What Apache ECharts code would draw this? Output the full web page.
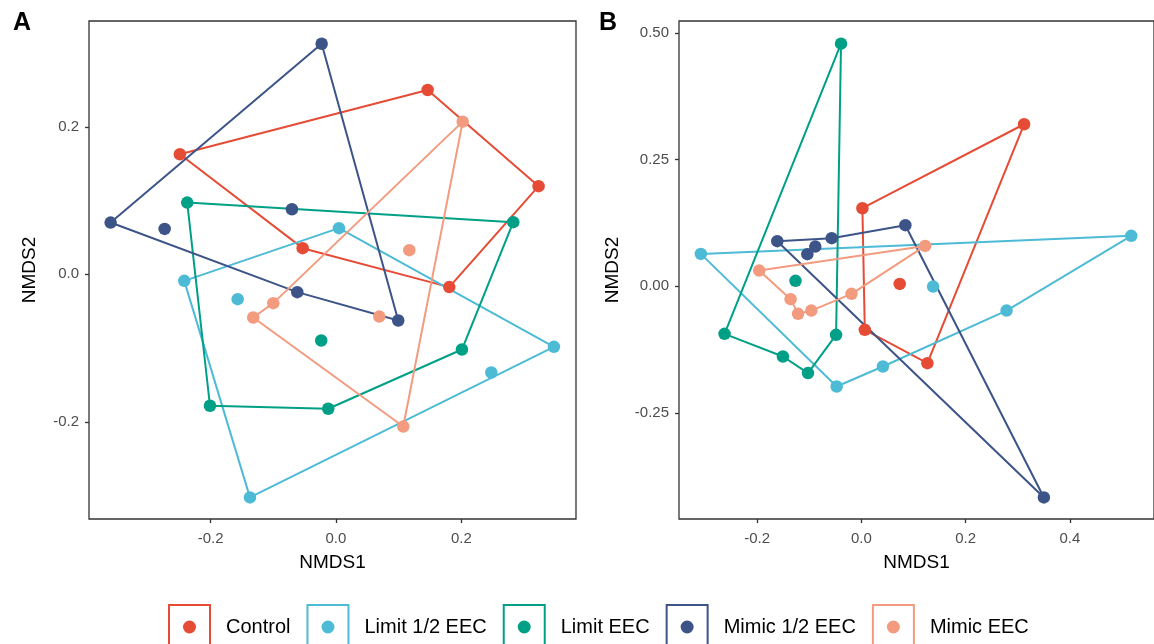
<!DOCTYPE html>
<html>
<head>
<meta charset="utf-8">
<script src="https://cdn.jsdelivr.net/npm/echarts@6/dist/echarts.min.js"></script>
<style>
  html, body { margin: 0; padding: 0; background: #fff; }
  #chart { width: 1154px; height: 644px; }
</style>
</head>
<body>
<div id="chart"></div>
<script>
// groups and colours
const groups = ["Control", "Limit 1/2 EEC", "Limit EEC", "Mimic 1/2 EEC", "Mimic EEC"];
const colors = ["#E64B35", "#4DBBD5", "#00A087", "#3C5488", "#F39B7F"];

// panel A: NMDS1, NMDS2 per sample
const aControl = [[-0.249, 0.1628], [0.1463, 0.2499], [0.3233, 0.1195], [0.1808, -0.0173], [-0.0531, 0.0355]];
const aLimitHalf = [[-0.242, -0.0088], [-0.1568, -0.0336], [0.0048, 0.0626], [0.3478, -0.0982], [0.2478, -0.133], [-0.1372, -0.3023]];
const aLimit = [[-0.2373, 0.0973], [0.2829, 0.0707], [0.201, -0.1019], [-0.0123, -0.1822], [-0.201, -0.1781], [-0.0235, -0.0897]];
const aMimicHalf = [[-0.0228, 0.3126], [0.0994, -0.0626], [-0.0617, -0.0241], [-0.3595, 0.0702], [-0.2733, 0.0616], [-0.0702, 0.0883]];
const aMimic = [[0.2022, 0.207], [0.1074, -0.2062], [-0.132, -0.0585], [-0.1, -0.039], [0.0691, -0.0572], [0.117, 0.0328]];
// polygon vertex order (indices into the arrays above)
const aControlHull = [0, 1, 2, 3, 4];
const aLimitHalfHull = [0, 2, 3, 5];
const aLimitHull = [0, 1, 2, 3, 4];
const aMimicHalfHull = [3, 0, 1, 2];
const aMimicHull = [0, 1, 2, 3];

// panel B
const bControl = [[0.0019, 0.1539], [0.3121, 0.3197], [0.1266, -0.152], [0.0065, -0.0862], [0.0735, 0.0045]];
const bLimitHalf = [[-0.3081, 0.0637], [0.5178, 0.0993], [0.2785, -0.0482], [0.0412, -0.1587], [-0.0475, -0.1981], [0.1375, -0.0008]];
const bLimit = [[-0.0391, 0.4788], [-0.0486, -0.0961], [-0.1025, -0.1717], [-0.1506, -0.1389], [-0.2626, -0.0941], [-0.1264, 0.0105]];
const bMimicHalf = [[-0.1614, 0.0888], [-0.057, 0.0947], [0.0843, 0.1204], [0.3501, -0.4172], [-0.0885, 0.0782], [-0.1037, 0.0632]];
const bMimic = [[-0.1961, 0.0308], [0.1223, 0.0795], [-0.019, -0.0152], [-0.0961, -0.0482], [-0.1215, -0.0547], [-0.1359, -0.0257]];
const bControlHull = [0, 1, 2, 3];
const bLimitHalfHull = [0, 1, 2, 3, 4];
const bLimitHull = [0, 1, 2, 3, 4];
const bMimicHalfHull = [0, 1, 2, 3];
const bMimicHull = [0, 1, 2, 3, 4, 5];

// tick labels
const aXTicks = [-0.2, 0.0, 0.2];
const aYTicks = [-0.2, 0.0, 0.2];
const bXTicks = [-0.2, 0.0, 0.2, 0.4];
const bYTicks = [-0.25, 0.0, 0.25, 0.5];

const panelA = [aControl, aLimitHalf, aLimit, aMimicHalf, aMimic];
const panelAHull = [aControlHull, aLimitHalfHull, aLimitHull, aMimicHalfHull, aMimicHull];
const panelB = [bControl, bLimitHalf, bLimit, bMimicHalf, bMimic];
const panelBHull = [bControlHull, bLimitHalfHull, bLimitHull, bMimicHalfHull, bMimicHull];

const chart = echarts.init(document.getElementById("chart"));

const FONT = "Liberation Sans, Arial, sans-serif";

function makeAxis(gridIndex, min, max, ticks, digits, name, isY, nameGap) {
    return {
        type: "value",
        gridIndex,
        min,
        max,
        name,
        nameLocation: "middle",
        nameGap,
        nameTextStyle: { color: "#000", fontSize: 19, fontFamily: FONT },
        axisLine: { show: false, onZero: false },
        axisTick: {
            show: true,
            length: 4,
            customValues: ticks,
            lineStyle: { color: "#333", width: 1.3 },
        },
        axisLabel: {
            customValues: ticks,
            margin: isY ? 10 : 12,
            color: "#4d4d4d",
            fontSize: 15,
            fontFamily: FONT,
            formatter: (v) => Number(v).toFixed(digits),
        },
        splitLine: { show: false },
    };
}

const series = [];
function addPanel(data, hulls, idx) {
    // points on top
    data.forEach((pts, g) => {
        series.push({
            name: groups[g],
            type: "scatter",
            xAxisIndex: idx,
            yAxisIndex: idx,
            data: pts,
            symbolSize: 12.5,
            itemStyle: { color: colors[g], opacity: 1 },
            z: 4,
        });
    });
    data.forEach((pts, g) => {
        const ring = hulls[g].map((i) => pts[i]);
        ring.push(pts[hulls[g][0]]);
        series.push({
            name: groups[g],
            type: "line",
            xAxisIndex: idx,
            yAxisIndex: idx,
            data: ring,
            showSymbol: false,
            symbol: "none",
            lineStyle: { color: colors[g], width: 2 },
            itemStyle: { color: colors[g] },
            z: 3,
        });
    });
}
addPanel(panelA, panelAHull, 0);
addPanel(panelB, panelBHull, 1);

const keyIcon = "path://M0,0H43V46H0Z M2,2V44H41V2Z M15,23A6.5,6.5 0 1 1 28,23A6.5,6.5 0 1 1 15,23Z";

chart.setOption({
    animation: false,
    backgroundColor: "#fff",
    title: [
        { text: "A", left: 8, top: 6, textStyle: { fontSize: 25, fontWeight: "bold", color: "#000", fontFamily: FONT } },
        { text: "B", left: 594, top: 6, textStyle: { fontSize: 25, fontWeight: "bold", color: "#000", fontFamily: FONT } },
    ],
    grid: [
        { left: 89, top: 21, width: 487, height: 498, show: true, borderColor: "#333", borderWidth: 1.3, containLabel: false },
        { left: 679, top: 21, width: 480, height: 498, show: true, borderColor: "#333", borderWidth: 1.3, containLabel: false },
    ],
    xAxis: [
        makeAxis(0, -0.394, 0.383, aXTicks, 1, "NMDS1", false, 34),
        makeAxis(1, -0.35, 0.5614, bXTicks, 1, "NMDS1", false, 34),
    ],
    yAxis: [
        makeAxis(0, -0.3316, 0.3434, aYTicks, 1, "NMDS2", true, 50),
        makeAxis(1, -0.4598, 0.5236, bYTicks, 2, "NMDS2", true, 57),
    ],
    legend: {
        left: 168,
        top: 604,
        padding: 0,
        itemGap: 16,
        itemWidth: 43,
        itemHeight: 46,
        selectedMode: false,
        data: groups.map((g, i) => ({
            name: g,
            icon: keyIcon,
            itemStyle: { color: colors[i], borderWidth: 0 },
        })),
        textStyle: { color: "#000", fontSize: 20, fontFamily: FONT, padding: [0, 0, 0, 10] },
    },
    series,
});
</script>
</body>
</html>
